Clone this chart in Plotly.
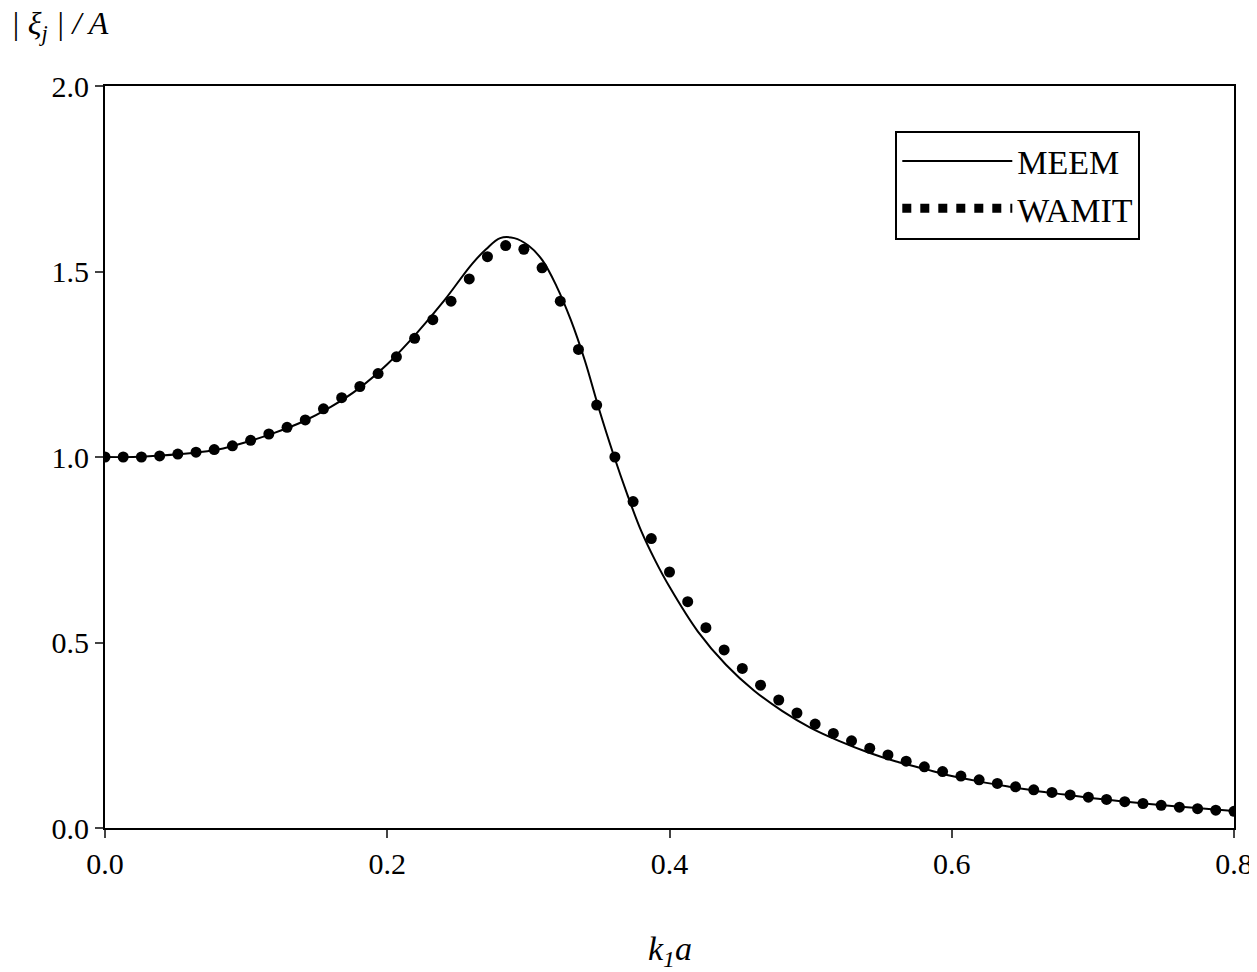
import plotly.graph_objects as go

meem_k = [0,.02,.04,.06,.08,.1,.12,.14,.16,.18,.2,.22,.24,.26,.27,.28,.29,.30,.31,.32,.33,.34,.35,.36,.37,.38,.39,.40,.42,.44,.46,.48,.50,.52,.54,.56,.58,.60,.62,.64,.66,.68,.70,.72,.74,.76,.78,.80]
meem_v = [1.0,1.0,1.004,1.01,1.02,1.04,1.065,1.095,1.135,1.185,1.25,1.33,1.42,1.52,1.56,1.59,1.59,1.57,1.53,1.46,1.37,1.26,1.13,1.01,0.90,0.80,0.72,0.65,0.53,0.44,0.37,0.315,0.27,0.235,0.205,0.18,0.16,0.14,0.125,0.112,0.10,0.09,0.08,0.072,0.065,0.058,0.052,0.046]

wamit_v = [1.0,1.0,1.0,1.003,1.008,1.013,1.02,1.03,1.045,1.062,1.08,1.10,1.13,1.16,1.19,1.225,1.27,1.32,1.37,1.42,1.48,1.54,1.57,1.56,1.51,1.42,1.29,1.14,1.0,0.88,0.78,0.69,0.61,0.54,0.48,0.43,0.385,0.345,0.31,0.28,0.255,0.235,0.215,0.197,0.18,0.165,0.152,0.14,0.13,0.12,0.111,0.103,0.096,0.089,0.083,0.077,0.071,0.066,0.061,0.056,0.052,0.048,0.045]
wamit_k = [round(0.8*i/(len(wamit_v)-1), 4) for i in range(len(wamit_v))]

serif = "Liberation Serif"
fig = go.Figure()
fig.add_trace(go.Scatter(x=meem_k, y=meem_v, mode="lines", name="MEEM",
                         line=dict(color="black", width=2, shape="spline")))
fig.add_trace(go.Scatter(x=wamit_k, y=wamit_v, mode="markers", name="WAMIT", showlegend=False,
                         marker=dict(color="black", size=11)))
fig.add_trace(go.Scatter(x=[None], y=[None], mode="lines", name="WAMIT",
                         line=dict(color="black", width=9, dash="dot")))
fig.update_layout(
    width=1257, height=972, plot_bgcolor="white", paper_bgcolor="white",
    margin=dict(l=97, r=25, t=78, b=152), font=dict(family=serif, size=30, color="black"),
    legend=dict(x=0.70, y=0.94, xanchor="left", yanchor="top", bordercolor="black",
                borderwidth=2, font=dict(family=serif, size=34), bgcolor="white",
                itemwidth=110, tracegroupgap=10),
    annotations=[
        dict(text="<i>| ξ<sub>j</sub> | / A</i>", x=-0.085, y=1.0, xref="paper", yref="paper",
             xanchor="left", yanchor="bottom", yshift=38, showarrow=False,
             font=dict(family=serif, size=32)),
        dict(text="<i>k<sub>1</sub>a</i>", x=0.5, y=0, xref="paper", yref="paper",
             xanchor="center", yanchor="top", yshift=-100, showarrow=False,
             font=dict(family=serif, size=34)),
    ],
)
fig.update_xaxes(range=[0, 0.8], tickvals=[0, .2, .4, .6, .8], ticktext=["0.0","0.2","0.4","0.6","0.8"],
                 tickfont=dict(family=serif, size=30),
                 showgrid=False, zeroline=False, showline=True, linecolor="black", linewidth=2,
                 mirror=True, ticks="outside", ticklen=8, tickwidth=2)
fig.update_yaxes(range=[0, 2], tickvals=[0, .5, 1, 1.5, 2], ticktext=["0.0","0.5","1.0","1.5","2.0"],
                 tickfont=dict(family=serif, size=30),
                 showgrid=False, zeroline=False, showline=True, linecolor="black", linewidth=2,
                 mirror=True, ticks="outside", ticklen=8, tickwidth=2)
fig.write_html("out.html")
